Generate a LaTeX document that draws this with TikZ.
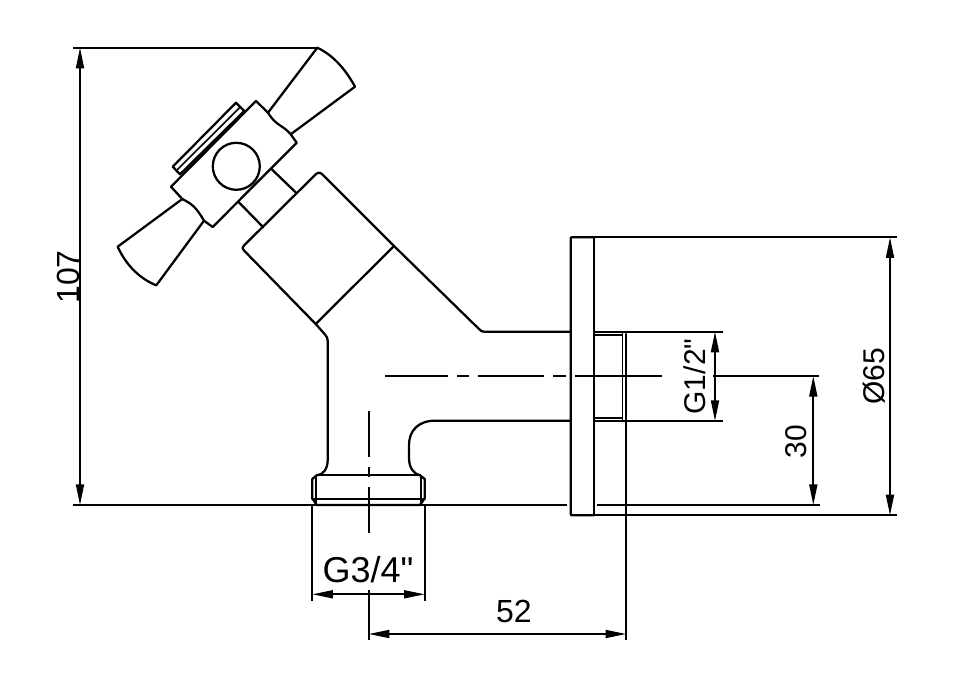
\documentclass[tikz,border=0pt]{standalone}
\usepackage{fontspec}
\setmainfont{Liberation Sans}[Ligatures=TeXOff]
\usetikzlibrary{arrows.meta}
\tikzset{
  x=0.75pt,y=-0.75pt,
  part/.style={line width=1.7pt,black,line join=round,line cap=round},
  thin part/.style={line width=1.2pt,black},
  dimline/.style={line width=1.35pt,black},
  dimarrow/.style={line width=1.35pt,black,{Triangle[length=15.5pt,width=6pt]}-{Triangle[length=15.5pt,width=6pt]}},
  lab/.style={inner sep=0pt,font=\fontsize{22.5pt}{24pt}\selectfont}
}
\begin{document}
\begin{tikzpicture}
\useasboundingbox (0,0) rectangle (954,678);
% handle blades
\draw[part] (268,112.7) -- (317.3,47.7) .. controls (335,56) and (347,72) .. (355,86.7) -- (290.7,134.3);
\draw[part] (204,220.7) -- (156.3,285.3) .. controls (138,278) and (125,263) .. (117.7,246.7) -- (182.3,199);
% handle block
\draw[part] (256,101) -- (268,112.7) .. controls (276,126) and (283,125) .. (290.7,134.3) -- (296.7,142.7) -- (212.7,227) -- (204,220.7) .. controls (196,207) and (192,204) .. (182.3,199) -- (171,186.7) -- cycle;
% cap plate
\draw[part] (244.3,111) -- (236,102.7) -- (172.7,166.7) -- (180,174.3) -- cycle;
\draw[thin part] (240.3,107) -- (176.7,170.3);
\draw[part] (236.3,166.3) circle (23.5);
% neck
\draw[part] (271.7,169.3) -- (296.7,193.3);
\draw[part] (238.3,201.7) -- (263.3,227.3);
% valve body
\draw[part] (315.7,324) -- (244,250.5) .. controls (242,248.5) and (242,247.5) .. (244,245.5) -- (315,175) .. controls (318,172) and (320,172) .. (323,175) -- (394,246) -- (479,329) .. controls (481,331) and (482,331.7) .. (484,331.7) -- (570.7,331.7);
\draw[part] (315.7,324) -- (394,246);
\draw[part] (315.7,324) -- (325,334.5) .. controls (327,337) and (327.7,338) .. (327.7,341) -- (327.7,460) .. controls (327.7,469) and (323,475) .. (316.7,475.3);
\draw[part] (570.7,420.7) -- (435,420.7) .. controls (418,420.7) and (409,431) .. (409,445) -- (409,458) .. controls (409,468) and (414,474) .. (420,475.3);
% thread G3/4
\draw[part] (316.7,475.3) -- (420,475.3);
\draw[part] (316.7,475.3) -- (312.3,479) -- (312.3,498.3) -- (316.7,505) -- (420,505) -- (424.7,498.3) -- (424.7,479) -- (420,475.3);
\draw[thin part] (316,475.3) -- (316,505) (421,475.3) -- (421,505);
\draw[part] (312.3,499) -- (424.7,499);
% flange
\draw[part] (594,237.3) -- (571.5,237.3) -- (570.7,238) -- (570.7,514.5) -- (571.5,515.3) -- (594,515.3);
\draw[part] (594,237.3) -- (594,515.3);
% thread G1/2
\draw[part] (594,335) -- (622,335) (594,417.7) -- (622,417.7);
\draw[thin part] (622.3,333) -- (622.3,420);
\draw[part] (626,334) -- (626,421);
% extension lines
\draw[dimline] (594,237.3) -- (896.7,237.3) (594,515.3) -- (896.7,515.3);
\draw[dimline] (594,331.7) -- (722.7,331.7) (594,421) -- (722.7,421);
\draw[dimline] (73,47.7) -- (317.3,47.7);
\draw[dimline] (73,505) -- (567,505) (597.3,505) -- (820,505);
\draw[dimline] (713,376) -- (819,376);
\draw[dimline] (312.3,505) -- (312.3,601) (424.7,505) -- (424.7,601);
\draw[dimline] (368.7,590) -- (368.7,640);
\draw[dimline] (626.2,421) -- (626.2,640);
% centre lines
\draw[dimline] (368.7,411) -- (368.7,457) (368.7,467) -- (368.7,477) (368.7,487) -- (368.7,533);
\draw[dimline] (385,376) -- (448,376) (457,376) -- (469,376) (478,376) -- (544,376) (553,376) -- (566,376) (575,376) -- (661.7,376);
% dimension arrows
\draw[dimarrow] (80,47.7) -- (80,505);
\draw[dimarrow] (890,237.3) -- (890,515.3);
\draw[dimarrow] (813.3,376) -- (813.3,505);
\draw[dimarrow] (715,331.7) -- (715,421);
\draw[dimarrow] (312.3,594.3) -- (424.7,594.3);
\draw[dimarrow] (368.7,634) -- (626.2,634);
% labels
\node[lab,rotate=90,font=\fontsize{24pt}{26pt}\selectfont] (l107) at (68,277) {107};
\node[lab,rotate=90] (lg12) at (695,376.5) {G1/2"};
\node[lab,rotate=90] (l30) at (795.7,441.7) {30};
\node[lab,rotate=90] (l65) at (874,376.5) {Ø65};
\node[lab,font=\fontsize{24pt}{26pt}\selectfont] (l52) at (514,611.5) {52};
\node[lab,font=\fontsize{27pt}{30pt}\selectfont] (lg34) at (368,570) {G3/4"};
\end{tikzpicture}
\end{document}
